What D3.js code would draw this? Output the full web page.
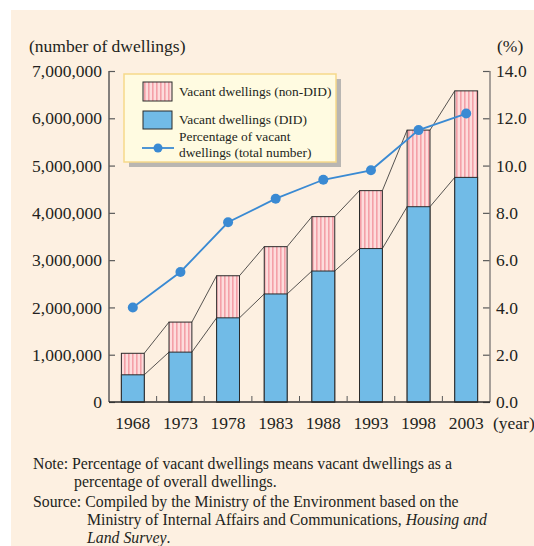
<!DOCTYPE html>
<html>
<head>
<meta charset="utf-8">
<title>Vacant dwellings</title>
<script src="https://d3js.org/d3.v7.min.js"></script>
<style>
  body { margin: 0; background: #fff; }
  text { font-family: 'Liberation Serif', 'Times New Roman', serif; fill: #231f20; }
</style>
</head>
<body>
<div id="chart"></div>
<script>
// data
var years = ["1968", "1973", "1978", "1983", "1988", "1993", "1998", "2003"];
var didVacant = [575000, 1055000, 1780000, 2285000, 2770000, 3245000, 4130000, 4750000];
var totalVacant = [1030000, 1690000, 2670000, 3285000, 3920000, 4470000, 5750000, 6580000];
var vacantRate = [4.0, 5.5, 7.6, 8.6, 9.4, 9.8, 11.5, 12.2];
var leftTicks = [0, 1000000, 2000000, 3000000, 4000000, 5000000, 6000000, 7000000];
var rightTicks = [0, 2, 4, 6, 8, 10, 12, 14];

var W = 534, H = 546;
var svg = d3.select("#chart").append("svg")
  .attr("width", W).attr("height", H);

// cream panel
svg.append("rect").attr("x", 11).attr("y", 10).attr("width", W - 11).attr("height", H - 10)
  .attr("fill", "#fdf0e1");

// stripe pattern for the non-DID part
var defs = svg.append("defs");
var pat = defs.append("pattern").attr("id", "stripes")
  .attr("patternUnits", "userSpaceOnUse").attr("width", 4).attr("height", 10);
pat.append("rect").attr("width", 4).attr("height", 10).attr("fill", "#fddcdc");
pat.append("rect").attr("x", 0).attr("width", 1.6).attr("height", 10).attr("fill", "#f4a0a8");

var pLeft = 109, pRight = 490, pTop = 71, pBottom = 402;

var x = d3.scaleBand().domain(years).range([pLeft, pRight]).paddingInner(0.52).paddingOuter(0.26);
var y = d3.scaleLinear().domain([0, 7000000]).range([pBottom, pTop]);
var y2 = d3.scaleLinear().domain([0, 14]).range([pBottom, pTop]);
var bw = x.bandwidth();

// bars: non-DID (total) behind, DID on top
svg.selectAll(".tot").data(years).enter().append("rect")
  .attr("x", d => x(d)).attr("y", (d, i) => y(totalVacant[i]))
  .attr("width", bw).attr("height", (d, i) => y(0) - y(totalVacant[i]))
  .attr("fill", "url(#stripes)").attr("stroke", "#2b2b2b").attr("stroke-width", 1);

svg.selectAll(".did").data(years).enter().append("rect")
  .attr("x", d => x(d)).attr("y", (d, i) => y(didVacant[i]))
  .attr("width", bw).attr("height", (d, i) => y(0) - y(didVacant[i]))
  .attr("fill", "#71bbe7").attr("stroke", "#2b2b2b").attr("stroke-width", 1);

// connector lines between bars
[totalVacant, didVacant].forEach(function(series) {
  years.slice(0, -1).forEach(function(yr, i) {
    svg.append("line")
      .attr("x1", x(yr) + bw).attr("y1", y(series[i]))
      .attr("x2", x(years[i + 1])).attr("y2", y(series[i + 1]))
      .attr("stroke", "#2b2b2b").attr("stroke-width", 0.8);
  });
});

// axes
var axisColor = "#5a5a5a";
var tickFont = "17.5px";
var gl = svg.append("g").attr("transform", "translate(" + pLeft + ",0)")
  .call(d3.axisRight(y).tickValues(leftTicks).tickSize(6).tickFormat(""));
gl.select(".domain").remove();
gl.selectAll("line").attr("stroke", axisColor).attr("stroke-width", 1.2);
svg.append("line").attr("x1", pLeft).attr("x2", pLeft).attr("y1", pTop).attr("y2", pBottom)
  .attr("stroke", axisColor).attr("stroke-width", 1.5);
svg.selectAll(".ltl").data(leftTicks).enter().append("text")
  .attr("x", pLeft - 7).attr("y", d => y(d)).attr("dy", "0.35em")
  .attr("text-anchor", "end").style("font-size", tickFont)
  .text(d => d3.format(",")(d));

var gr = svg.append("g").attr("transform", "translate(" + pRight + ",0)")
  .call(d3.axisLeft(y2).tickValues(rightTicks).tickSize(7).tickFormat(""));
gr.select(".domain").remove();
gr.selectAll("line").attr("stroke", axisColor).attr("stroke-width", 1.2);
svg.append("line").attr("x1", pRight).attr("x2", pRight).attr("y1", pTop).attr("y2", pBottom)
  .attr("stroke", "#8a8580").attr("stroke-width", 1.5);
svg.selectAll(".rtl").data(rightTicks).enter().append("text")
  .attr("x", pRight + 6).attr("y", d => y2(d)).attr("dy", "0.35em")
  .style("font-size", tickFont)
  .text(d => d3.format(".1f")(d));

// bottom axis
svg.append("line").attr("x1", pLeft).attr("x2", pRight).attr("y1", pBottom).attr("y2", pBottom)
  .attr("stroke", "#2b2b2b").attr("stroke-width", 1.5);
svg.selectAll(".bt").data(years.slice(1)).enter().append("line")
  .attr("x1", d => x(d) - x.step() * x.paddingInner() / 2)
  .attr("x2", d => x(d) - x.step() * x.paddingInner() / 2)
  .attr("y1", pBottom).attr("y2", pBottom - 6)
  .attr("stroke", axisColor).attr("stroke-width", 1);
svg.selectAll(".xl").data(years).enter().append("text")
  .attr("x", d => x(d) + bw / 2).attr("y", pBottom + 27)
  .attr("text-anchor", "middle").style("font-size", tickFont)
  .text(d => d);
svg.append("text").attr("x", pRight + 3).attr("y", pBottom + 27)
  .style("font-size", tickFont).text("(year)");

// axis titles
svg.append("text").attr("x", 29).attr("y", 52).style("font-size", "17.5px").text("(number of dwellings)");
svg.append("text").attr("x", 497).attr("y", 52).style("font-size", "17.5px").text("(%)");

// percentage line
var line = d3.line().x((d, i) => x(years[i]) + bw / 2).y(d => y2(d));
svg.append("path").datum(vacantRate).attr("d", line)
  .attr("fill", "none").attr("stroke", "#3a8ad3").attr("stroke-width", 1.8);
svg.selectAll(".dot").data(vacantRate).enter().append("circle")
  .attr("cx", (d, i) => x(years[i]) + bw / 2).attr("cy", d => y2(d)).attr("r", 5)
  .attr("fill", "#3a8ad3");

// legend
var lg = svg.append("g");
lg.append("rect").attr("x", 129).attr("y", 79).attr("width", 212).attr("height", 88).attr("fill", "#b9b6b2");
lg.append("rect").attr("x", 124).attr("y", 74).attr("width", 212).attr("height", 88)
  .attr("fill", "#fffbe1").attr("stroke", "#f6d98a").attr("stroke-width", 1.5);
lg.append("rect").attr("x", 143).attr("y", 82).attr("width", 29).attr("height", 19)
  .attr("fill", "url(#stripes)").attr("stroke", "#2b2b2b");
lg.append("text").attr("x", 179).attr("y", 96).style("font-size", "13.4px").text("Vacant dwellings (non-DID)");
lg.append("rect").attr("x", 143).attr("y", 111).attr("width", 29).attr("height", 18)
  .attr("fill", "#71bbe7").attr("stroke", "#2b2b2b");
lg.append("text").attr("x", 179).attr("y", 124).style("font-size", "13.4px").text("Vacant dwellings (DID)");
lg.append("line").attr("x1", 142).attr("x2", 174).attr("y1", 148).attr("y2", 148)
  .attr("stroke", "#3a8ad3").attr("stroke-width", 1.8);
lg.append("circle").attr("cx", 158).attr("cy", 148).attr("r", 4.5).attr("fill", "#3a8ad3");
lg.append("text").attr("x", 179).attr("y", 141).style("font-size", "13.4px").text("Percentage of vacant");
lg.append("text").attr("x", 179).attr("y", 157).style("font-size", "13.4px").text("dwellings (total number)");

// notes
var nf = "15.8px";
svg.append("text").attr("x", 33).attr("y", 469).style("font-size", nf)
  .text("Note: Percentage of vacant dwellings means vacant dwellings as a");
svg.append("text").attr("x", 74).attr("y", 487).style("font-size", nf)
  .text("percentage of overall dwellings.");
svg.append("text").attr("x", 33).attr("y", 507).style("font-size", nf)
  .text("Source: Compiled by the Ministry of the Environment based on the");
var s2 = svg.append("text").attr("x", 87).attr("y", 525).style("font-size", nf);
s2.append("tspan").text("Ministry of Internal Affairs and Communications, ");
s2.append("tspan").style("font-style", "italic").text("Housing and");
var s3 = svg.append("text").attr("x", 87).attr("y", 543).style("font-size", nf);
s3.append("tspan").style("font-style", "italic").text("Land Survey");
s3.append("tspan").text(".");
</script>
</body>
</html>
